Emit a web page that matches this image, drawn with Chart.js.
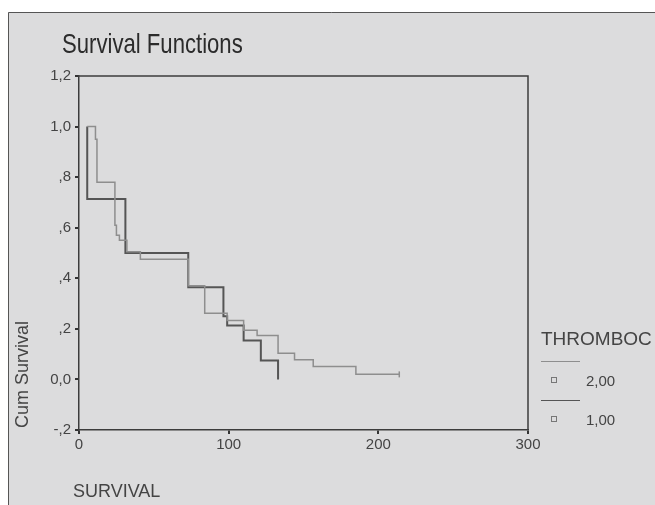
<!DOCTYPE html>
<html>
<head>
<meta charset="utf-8">
<script src="https://cdn.jsdelivr.net/npm/chart.js@4/dist/chart.umd.min.js"></script>
<style>
  body { margin: 0; background: #fff; }
  #wrap { width: 655px; height: 505px; }
</style>
</head>
<body>
<div id="wrap"><canvas id="survChart" width="655" height="505"></canvas></div>
<script>
// Kaplan-Meier steps (time, cum survival)
const timesGroup2 = [5.5, 11, 12, 24, 25, 27, 32, 41, 73, 84, 99, 110, 119, 133, 144, 156.5, 185, 214];
const survGroup2 = [1.0, 0.95, 0.78, 0.61, 0.57, 0.55, 0.505, 0.475, 0.37, 0.262, 0.233, 0.194, 0.174, 0.104, 0.078, 0.051, 0.02, 0.02];
const timesGroup1 = [5.5, 5.5, 31, 73, 96.5, 99, 110, 121.5, 133];
const survGroup1 = [1.0, 0.714, 0.5, 0.365, 0.25, 0.213, 0.154, 0.075, 0.0];

const groupLabels = ['2,00', '1,00'];
const legendTitle = 'THROMBOC';
const yTickLabels = ['-,2', '0,0', ',2', ',4', ',6', ',8', '1,0', '1,2'];
const xTickLabels = ['0', '100', '200', '300'];

const FONT = '"Liberation Sans", Arial, sans-serif';
const lightCol = '#8e8e8e';
const darkCol = '#555555';

function toPoints(ts, ss) {
    return ts.map((t, i) => ({ x: t, y: ss[i] }));
}

// panel, frame, titles and the SPSS style legend
const spssDecor = {
    id: 'spssDecor',
    beforeDraw(chart) {
        const c = chart.ctx;
        c.save();
        c.fillStyle = '#ffffff';
        c.fillRect(0, 0, chart.width, chart.height);
        c.fillStyle = '#dcdcdd';
        c.fillRect(8, 12, chart.width - 8, chart.height - 12);
        c.strokeStyle = '#555';
        c.lineWidth = 1;
        c.beginPath();
        c.moveTo(8.5, chart.height);
        c.lineTo(8.5, 12.5);
        c.lineTo(chart.width, 12.5);
        c.stroke();
        c.restore();
    },
    afterDraw(chart) {
        const c = chart.ctx;
        const a = chart.chartArea;
        c.save();
        // top and right of the frame
        c.strokeStyle = '#3c3c3c';
        c.lineWidth = 1.5;
        c.beginPath();
        c.moveTo(a.left, a.top);
        c.lineTo(a.right, a.top);
        c.lineTo(a.right, a.bottom);
        c.stroke();

        // main title, a bit narrow like the original
        c.fillStyle = '#2b2b2b';
        c.font = '28px ' + FONT;
        c.textAlign = 'left';
        c.textBaseline = 'alphabetic';
        c.save();
        c.translate(62, 53);
        c.scale(0.79, 1);
        c.fillText('Survival Functions', 0, 0);
        c.restore();

        // axis titles
        c.fillStyle = '#444';
        c.font = '18px ' + FONT;
        c.textBaseline = 'middle';
        c.fillText('SURVIVAL', 73, 492);
        c.save();
        c.translate(23, 428);
        c.rotate(-Math.PI / 2);
        c.fillText('Cum Survival', 0, 0);
        c.restore();

        // legend
        c.font = '19px ' + FONT;
        c.fillText(legendTitle, 541, 340);
        const rows = [{ y: 381, col: lightCol }, { y: 420, col: darkCol }];
        c.font = '15px ' + FONT;
        rows.forEach((r, i) => {
            c.strokeStyle = r.col;
            c.lineWidth = 1;
            c.beginPath();
            c.moveTo(541, r.y - 19.5);
            c.lineTo(580, r.y - 19.5);
            c.stroke();
            c.strokeStyle = '#777';
            c.strokeRect(551.5, r.y - 3.5, 5, 5);
            c.fillStyle = '#444';
            c.fillText(groupLabels[i], 586, r.y + 1);
        });
        c.restore();
    }
};

const ctx = document.getElementById('survChart').getContext('2d');

const chart = new Chart(ctx, {
    type: 'scatter',
    data: {
        datasets: [
            {
                label: groupLabels[0],
                data: toPoints(timesGroup2, survGroup2),
                showLine: true,
                stepped: true,
                borderColor: lightCol,
                borderWidth: 1.5,
                pointStyle: 'line',
                rotation: 90,
                pointBorderColor: lightCol,
                pointBorderWidth: 1.5,
                pointRadius: c => (c.dataIndex === timesGroup2.length - 1 ? 3 : 0)
            },
            {
                label: groupLabels[1],
                data: toPoints(timesGroup1, survGroup1),
                showLine: true,
                stepped: true,
                borderColor: darkCol,
                borderWidth: 2,
                pointRadius: 0
            }
        ]
    },
    options: {
        responsive: false,
        animation: false,
        layout: { padding: { left: 8, top: 76, right: 127, bottom: 0 } },
        plugins: {
            legend: { display: false },
            title: { display: false },
            tooltip: { enabled: false }
        },
        scales: {
            x: {
                type: 'linear',
                min: 0,
                max: 300,
                afterFit: s => { s.height = 75; },
                afterBuildTicks: s => { s.ticks = xTickLabels.map(v => ({ value: Number(v) })); },
                grid: { drawOnChartArea: false, drawTicks: true, tickLength: 4, color: '#333', lineWidth: 2 },
                border: { display: true, color: '#3c3c3c', width: 1.5 },
                ticks: {
                    padding: 2,
                    color: '#444',
                    font: { family: FONT, size: 15 },
                    callback: (v, i) => xTickLabels[i]
                }
            },
            y: {
                type: 'linear',
                min: -0.2,
                max: 1.2,
                afterFit: s => { s.width = 71; },
                afterBuildTicks: s => { s.ticks = yTickLabels.map((l, i) => ({ value: -0.2 + i * 0.2 })); },
                grid: { drawOnChartArea: false, drawTicks: true, tickLength: 4, color: '#333', lineWidth: 2 },
                border: { display: true, color: '#3c3c3c', width: 1.5 },
                ticks: {
                    padding: 4,
                    color: '#444',
                    font: { family: FONT, size: 15 },
                    callback: (v, i) => yTickLabels[i]
                }
            }
        }
    },
    plugins: [spssDecor]
});
</script>
</body>
</html>
